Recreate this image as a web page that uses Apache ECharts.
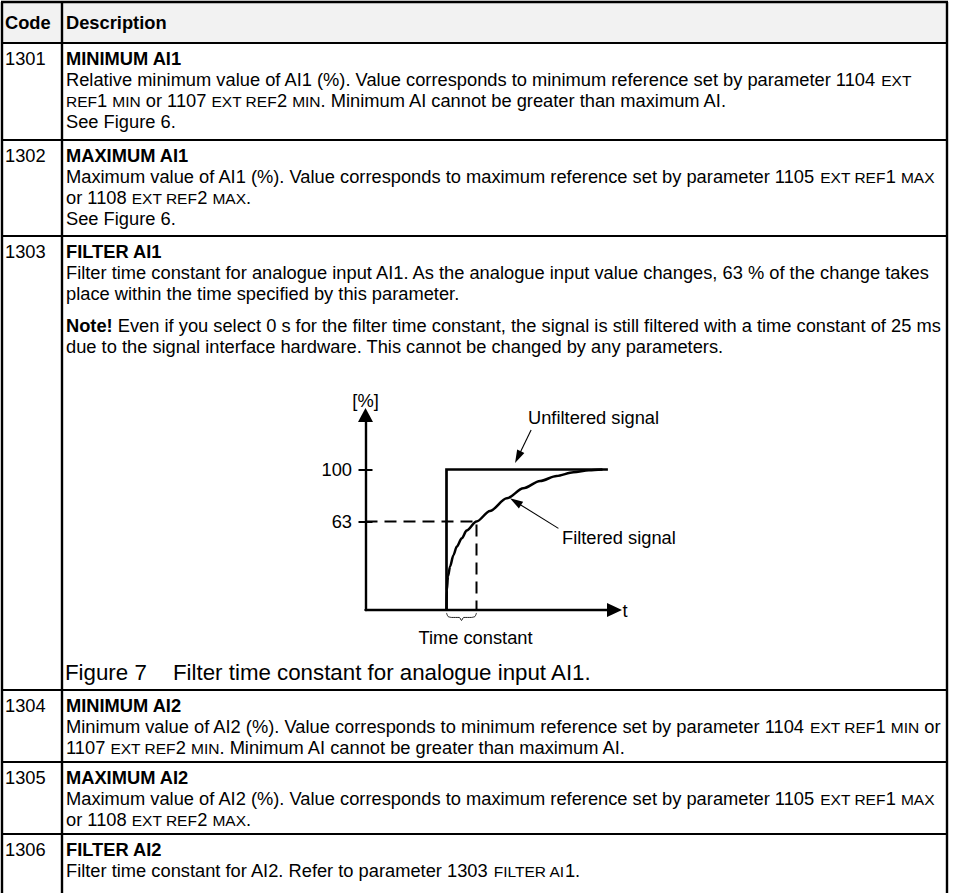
<!DOCTYPE html>
<html><head><meta charset="utf-8">
<script src="https://cdn.jsdelivr.net/npm/echarts@6/dist/echarts.min.js"></script>
<style>html,body{margin:0;padding:0;background:#fff}#c{width:953px;height:893px}</style>
</head><body><div id="c"></div>
<script>
// ---------- table content ----------
const headers = ['Code', 'Description'];
const codes = ['1301', '1302', '1303', '1304', '1305', '1306'];
const titles = ['MINIMUM AI1', 'MAXIMUM AI1', 'FILTER AI1', 'MINIMUM AI2', 'MAXIMUM AI2', 'FILTER AI2'];
const descriptions = [
  ['Relative minimum value of AI1 (%). Value corresponds to minimum reference set by parameter 1104 {sc|EXT}',
   '{sc|REF}1 {sc|MIN} or 1107 {sc|EXT REF}2 {sc|MIN}. Minimum AI cannot be greater than maximum AI.',
   'See Figure 6.'],
  ['Maximum value of AI1 (%). Value corresponds to maximum reference set by parameter 1105 {sc|EXT REF}1 {sc|MAX}',
   'or 1108 {sc|EXT REF}2 {sc|MAX}.',
   'See Figure 6.'],
  ['Filter time constant for analogue input AI1. As the analogue input value changes, 63 % of the change takes',
   'place within the time specified by this parameter.'],
  ['Minimum value of AI2 (%). Value corresponds to minimum reference set by parameter 1104 {sc|EXT REF}1 {sc|MIN} or',
   '1107 {sc|EXT REF}2 {sc|MIN}. Minimum AI cannot be greater than maximum AI.'],
  ['Maximum value of AI2 (%). Value corresponds to maximum reference set by parameter 1105 {sc|EXT REF}1 {sc|MAX}',
   'or 1108 {sc|EXT REF}2 {sc|MAX}.'],
  ['Filter time constant for AI2. Refer to parameter 1303 {sc|FILTER AI}1.']
];
const noteLines = [
  '{b|Note!} Even if you select 0 s for the filter time constant, the signal is still filtered with a time constant of 25 ms',
  'due to the signal interface hardware. This cannot be changed by any parameters.'
];
const captionParts = ['Figure 7', 'Filter time constant for analogue input AI1.'];

// ---------- figure data ----------
const unfilteredX = [2.7, 2.7, 8.08];
const unfilteredY = [0, 100, 100];
const filteredX = [2.70, 2.71, 2.75, 2.82, 2.93, 3.04, 3.21, 3.37, 3.70, 4.15, 4.71, 5.26, 5.82, 6.37, 6.93, 7.45, 7.9];
const filteredY = [0, 14, 24, 31, 39, 45, 51, 56.5, 63, 70.5, 79.5, 86.6, 91.8, 95.4, 98, 99.5, 100];
const dashX = [0, 3.7, 3.7];
const dashY = [63, 63, 0];
const braceX = [2.7, 2.75, 2.87, 3.13, 3.2, 3.27, 3.53, 3.65, 3.7];
const braceY = [-2.1, -4.6, -5.3, -5.3, -7.5, -5.3, -5.3, -4.6, -2.1];
const yTickValues = [63, 100];
const yAxisName = '[%]';
const xAxisName = 't';
const annotationTexts = ['Unfiltered signal', 'Filtered signal', 'Time constant'];
const arrowUnfilteredX = [5.52, 5.08];
const arrowUnfilteredY = [128.1, 108.8];
const arrowFilteredX = [6.43, 5.0];
const arrowFilteredY = [58.1, 77.1];

// ---------- layout (positions / styles) ----------
const F = "'Liberation Sans', Arial, Helvetica, sans-serif";
const FS = 18.3, SC = 15.5, CAP = 22.3;
const L = { left: 2, divider: 62, right: 947, top: 2, headerBottom: 43,
            rowTops: [43, 140, 236, 690, 762, 834], bottom: 893,
            codeX: 5, descX: 66, lineH: 21, firstOff: 15,
            noteY: [325, 346], captionY: 672, captionX: [65, 173] };
const RICH = {
  sc: { fontSize: SC, fontFamily: F, fill: '#000', color: '#000', verticalAlign: 'bottom' },
  b: { fontSize: FS, fontFamily: F, fontWeight: 'bold', fill: '#000', color: '#000' }
};
function zip(a, b) { return a.map((v, i) => [v, b[i]]); }
function txt(x, y, text, o) {
  o = o || {};
  return { type: 'text', x: x, y: y, z: 5, silent: true,
    style: { text: text, fontSize: o.size || FS, fontFamily: F, fontWeight: o.bold ? 'bold' : 'normal',
      fill: '#000', textAlign: o.align || 'left', align: o.align || 'left',
      textVerticalAlign: 'middle', verticalAlign: 'middle', rich: RICH } };
}
function line(x1, y1, x2, y2, w) {
  return { type: 'line', z: 4, silent: true, shape: { x1: x1, y1: y1, x2: x2, y2: y2 },
    style: { stroke: '#000', lineWidth: w || 2 } };
}

const g = [];
g.push({ type: 'rect', z: 1, silent: true, shape: { x: L.left, y: L.top, width: L.right - L.left, height: L.headerBottom - L.top }, style: { fill: '#f2f2f2' } });
g.push(line(L.left - 1, L.top, L.right + 1, L.top, 2.5));
g.push(line(L.left, L.top, L.left, L.bottom, 2.4));
g.push(line(L.divider, L.top, L.divider, L.bottom, 2.4));
g.push(line(L.right, L.top, L.right, L.bottom, 2.4));
L.rowTops.forEach(y => g.push(line(L.left - 1, y, L.right + 1, y, 2)));
g.push(txt(L.codeX, 22, headers[0], { bold: true }));
g.push(txt(L.descX, 22, headers[1], { bold: true }));
codes.forEach((c, i) => {
  const y0 = L.rowTops[i] + L.firstOff;
  g.push(txt(L.codeX, y0, c));
  g.push(txt(L.descX, y0, titles[i], { bold: true }));
  descriptions[i].forEach((d, j) => g.push(txt(L.descX, y0 + (j + 1) * L.lineH, d)));
});
noteLines.forEach((t, i) => g.push(txt(L.descX, L.noteY[i], t)));
g.push(txt(L.captionX[0], L.captionY, captionParts[0], { size: CAP }));
g.push(txt(L.captionX[1], L.captionY, captionParts[1], { size: CAP }));
// figure annotations
g.push(txt(528, 417, annotationTexts[0]));
g.push(txt(562, 537, annotationTexts[1]));
g.push(txt(475.5, 637, annotationTexts[2], { align: 'center' }));

const axisText = { color: '#000', fontSize: FS, fontFamily: F };
const black = '#000';
const option = {
  animation: false,
  backgroundColor: '#fff',
  graphic: { elements: g },
  grid: { left: 365.5, top: 415, width: 249, height: 195, containLabel: false },
  xAxis: {
    type: 'value', min: 0, max: 8.3,
    axisLine: { show: true, onZero: false, symbol: ['none', 'triangle'], symbolSize: [14, 15],
      lineStyle: { color: black, width: 2.4 } },
    axisTick: { show: false }, axisLabel: { show: false }, splitLine: { show: false },
    name: xAxisName, nameLocation: 'end', nameGap: 8, nameTextStyle: axisText
  },
  yAxis: [{
    type: 'value', min: 0, max: 138.8, position: 'left',
    axisLine: { show: true, symbol: ['none', 'triangle'], symbolSize: [15, 14],
      lineStyle: { color: black, width: 2.4 } },
    axisTick: { show: true, inside: false, length: 7, customValues: yTickValues, lineStyle: { color: black, width: 2 } },
    axisLabel: { show: true, customValues: yTickValues, margin: 13.5, color: black, fontSize: FS, fontFamily: F },
    splitLine: { show: false },
    name: yAxisName, nameLocation: 'end', nameGap: 6, nameTextStyle: axisText
  }, {
    type: 'value', min: 0, max: 138.8, position: 'left', offset: 0,
    axisLine: { show: false },
    axisTick: { show: true, inside: true, length: 7, customValues: yTickValues, lineStyle: { color: black, width: 2 } },
    axisLabel: { show: false }, splitLine: { show: false }
  }],
  series: [
    { type: 'line', name: 'Unfiltered signal', data: zip(unfilteredX, unfilteredY), symbol: 'none', silent: true, z: 3,
      lineStyle: { color: black, width: 2.7, join: 'miter', cap: 'butt' } },
    { type: 'line', name: 'Filtered signal', data: zip(filteredX, filteredY), symbol: 'none', silent: true, z: 3,
      smooth: 0.3, smoothMonotone: 'x', lineStyle: { color: black, width: 2.5 },
      markLine: {
        silent: true, animation: false, symbol: ['none', 'triangle'],
        lineStyle: { color: black, width: 1.1, type: 'solid' }, label: { show: false },
        emphasis: { disabled: true },
        data: [
          [{ coord: [arrowUnfilteredX[0], arrowUnfilteredY[0]], symbol: 'none' },
           { coord: [arrowUnfilteredX[1], arrowUnfilteredY[1]], symbol: 'triangle', symbolSize: [8, 13] }],
          [{ coord: [arrowFilteredX[0], arrowFilteredY[0]], symbol: 'none' },
           { coord: [arrowFilteredX[1], arrowFilteredY[1]], symbol: 'triangle', symbolSize: [8, 13] }]
        ]
      } },
    { type: 'line', name: '63 %', data: zip(dashX, dashY), symbol: 'none', silent: true, z: 2,
      lineStyle: { color: black, width: 2, type: [12, 7], join: 'miter' } },
    { type: 'line', name: 'brace', data: zip(braceX, braceY), symbol: 'none', silent: true, clip: false, z: 2,
      smooth: 0.2, lineStyle: { color: '#222', width: 1 } }
  ]
};
const chart = echarts.init(document.getElementById('c'), null, { renderer: 'svg' });
chart.setOption(option);
</script></body></html>
